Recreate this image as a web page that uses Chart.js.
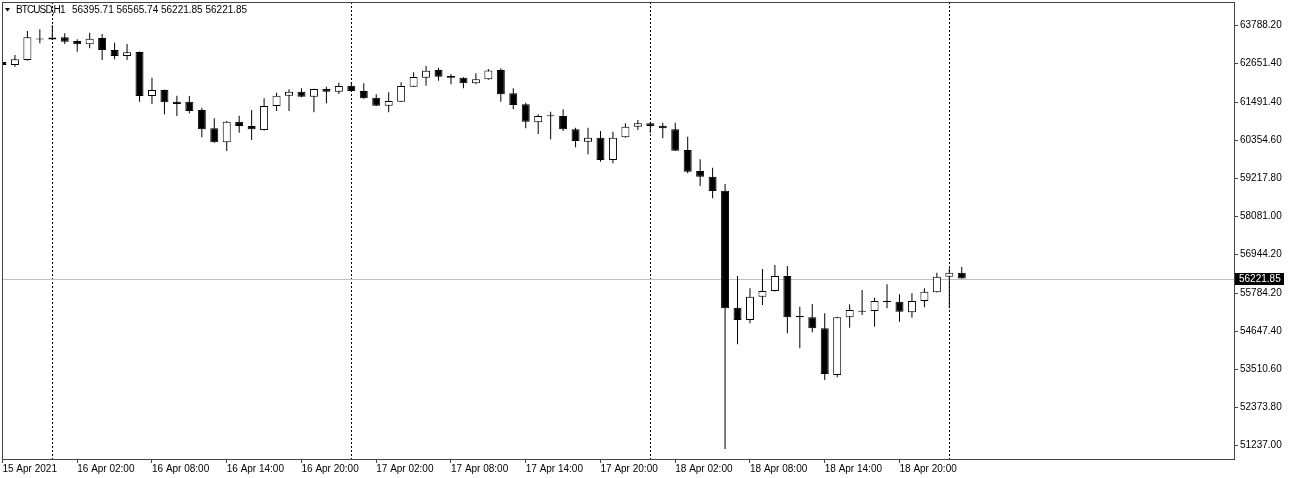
<!DOCTYPE html>
<html><head><meta charset="utf-8">
<script src="https://cdn.jsdelivr.net/npm/chart.js@4.4.1/dist/chart.umd.min.js"></script>
<style>html,body{margin:0;padding:0;background:#fff;overflow:hidden}#wrap{width:1290px;height:478px;position:relative}</style>
</head><body><div id="wrap"><canvas id="c" width="1290" height="478"></canvas></div>
<script>
const symbolTitle = 'BTCUSD,H1';
// hourly candles, 15 Apr 2021 20:00 .. 19 Apr 2021 01:00
const opens = [62692,62602,62752,63394,63364,63430,63319,63221,63409,63050,
62871,62991,61676,61856,61506,61506,61258,60712,60293,60909,
60780,60661,61378,61685,61805,61656,61885,61805,61984,61826,
61626,61387,61506,61954,62223,62453,62274,62223,62055,62175,
62453,61757,61428,60891,61079,61079,60682,60311,60431,59765,
60443,60759,60861,60789,60682,60063,59436,59266,58848,55353,
54985,55682,55852,56300,55066,55066,54737,53343,55066,55263,
55254,55532,55532,55215,55553,55813,56279,56395.71];
const highs = [62722,62901,63618,63669,63797,63549,63370,63567,63528,63269,
63230,63006,62223,61871,61685,61676,61327,61010,60930,61088,
61258,61608,61775,61877,61906,61894,61954,62074,62074,62056,
61727,61787,62086,62384,62572,62522,62333,62238,62354,62483,
62504,61906,61476,61130,61207,61279,60730,60730,60631,60610,
60861,60960,60909,60879,60879,60461,59786,59535,59048,56300,
55932,56509,56629,56599,55383,55463,55186,55084,55454,55881,
55652,56052,55753,55783,55932,56398,56530,56565.74];
const lows = [62363,62552,62740,63250,63349,63230,63000,63101,62752,62773,
62752,61506,61437,61130,61079,61160,60443,60278,60034,60580,
60362,60646,61228,61228,61638,61190,61458,61736,61811,61593,
61378,61190,61497,61945,61984,62133,62026,61906,62026,62160,
61506,61279,60712,60541,60383,60631,60144,59935,59714,59666,
60428,60661,60580,60413,60034,59367,58988,58621,51132,54259,
54887,55434,55837,54588,54140,54618,53193,53274,54755,55135,
54785,55335,54935,55054,55365,55804,55335,56221.85];
const closes = [62602,62773,63430,63364,63424,63298,63221,63388,63050,62871,
62982,61676,61856,61488,61437,61228,60682,60293,60909,60780,
60682,61378,61685,61805,61656,61885,61805,61975,61826,61608,
61387,61527,61975,62244,62432,62253,62223,62055,62175,62438,
61727,61407,60909,61079,61070,60682,60332,60431,59765,60431,
60759,60861,60780,60712,60042,59415,59266,58839,55335,54985,
55682,55852,56300,55066,55105,54737,53373,55066,55284,55233,
55553,55523,55233,55553,55831,56279,56396,56221.85];
const xTickIndex = [0,6,12,18,24,30,36,42,48,54,60,66,72];
const xTickLabels = ['15 Apr 2021','16 Apr 02:00','16 Apr 08:00','16 Apr 14:00','16 Apr 20:00','17 Apr 02:00','17 Apr 08:00','17 Apr 14:00','17 Apr 20:00','18 Apr 02:00','18 Apr 08:00','18 Apr 14:00','18 Apr 20:00'];
const dayBreakIndex = [4,28,52,76];
const yTicks = [63788.20,62651.40,61491.40,60354.60,59217.80,58081.00,56944.20,55784.20,54647.40,53510.60,52373.80,51237.00];

const FONT = '"Liberation Sans", Arial, sans-serif';
const n = closes.length;
const idx = closes.map((_, i) => i);
const wickData = idx.map(i => ({x: i, y: [lows[i], highs[i]]}));
const bodyData = idx.map(i => ({x: i, y: [opens[i], closes[i]]}));
const bodyFill = idx.map(i => closes[i] >= opens[i] ? '#ffffff' : '#000000');

const overlay = {
  id: 'mt4overlay',
  beforeDatasetsDraw(chart) {
    const {ctx, chartArea: a, scales: {x, y}} = chart;
    ctx.save();
    ctx.strokeStyle = '#000';
    ctx.lineWidth = 1;
    ctx.setLineDash([2, 2]);
    dayBreakIndex.forEach(d => {
      const px = Math.round(x.getPixelForValue(d)) + 0.5;
      ctx.beginPath(); ctx.moveTo(px, a.top); ctx.lineTo(px, a.bottom); ctx.stroke();
    });
    ctx.setLineDash([]);
    const py = Math.round(y.getPixelForValue(closes[n - 1])) + 0.5;
    ctx.strokeStyle = '#c0c0c0';
    ctx.beginPath(); ctx.moveTo(a.left, py); ctx.lineTo(a.right, py); ctx.stroke();
    ctx.restore();
  },
  afterDraw(chart) {
    const {ctx, chartArea: a, scales: {y}} = chart;
    ctx.save();
    ctx.strokeStyle = '#444';
    ctx.lineWidth = 1;
    ctx.strokeRect(Math.round(a.left) + 0.5, Math.round(a.top) + 0.5, Math.round(a.right - a.left), Math.round(a.bottom - a.top));
    const py = Math.round(y.getPixelForValue(closes[n - 1]));
    ctx.fillStyle = '#000';
    ctx.fillRect(a.right + 1, py - 6, 49, 12);
    ctx.fillStyle = '#fff';
    ctx.font = '10px ' + FONT;
    ctx.textBaseline = 'middle';
    ctx.textAlign = 'left';
    ctx.fillText(closes[n - 1].toFixed(2), a.right + 5, py + 0.5);
    ctx.fillStyle = '#000';
    ctx.beginPath(); ctx.moveTo(5, 8); ctx.lineTo(10, 8); ctx.lineTo(7.5, 11.5); ctx.closePath(); ctx.fill();
    if ('letterSpacing' in ctx) ctx.letterSpacing = '-0.9px';
    ctx.fillText(symbolTitle, 16, 10);
    if ('letterSpacing' in ctx) ctx.letterSpacing = '0px';
    const last = [opens[n-1], highs[n-1], lows[n-1], closes[n-1]].map(v => v.toFixed(2)).join(' ');
    ctx.fillText(last, 72, 10);
    ctx.restore();
  }
};

new Chart(document.getElementById('c'), {
  type: 'bar',
  data: {
    datasets: [
      {label: 'body', data: bodyData, backgroundColor: bodyFill, borderColor: '#000', borderWidth: 1,
       borderSkipped: false, barThickness: 8, minBarLength: 1, grouped: false, order: 1, inflateAmount: 0, clip: 0},
      {label: 'wick', data: wickData, backgroundColor: '#000', borderWidth: 0,
       barThickness: 1, grouped: false, order: 2, inflateAmount: 0, clip: 0}
    ]
  },
  options: {
    responsive: false,
    animation: false,
    events: [],
    layout: {padding: {top: 2, left: 2, right: 0, bottom: 0}},
    plugins: {legend: {display: false}, tooltip: {enabled: false}, title: {display: false}},
    scales: {
      x: {
        type: 'linear', position: 'bottom', min: -0.038, max: 98.85, offset: false, bounds: 'data',
        grid: {display: true, drawOnChartArea: false, drawTicks: true, tickLength: 4, color: '#444', offset: false},
        border: {display: false},
        ticks: {autoSkip: false, maxRotation: 0, minRotation: 0, align: 'start', padding: 0,
                color: '#000', font: {family: FONT, size: 10},
                callback: (v, i) => xTickLabels[i]},
        afterBuildTicks: s => { s.ticks = xTickIndex.map(v => ({value: v})); },
        afterFit: s => { s.height = 19; s.paddingLeft = 0; s.paddingRight = 0; }
      },
      y: {
        type: 'linear', position: 'right', min: 50833.6, max: 64484.2, beginAtZero: false, bounds: 'data',
        grid: {display: true, drawOnChartArea: false, drawTicks: true, tickLength: 4, color: '#444'},
        border: {display: false},
        ticks: {autoSkip: false, padding: 2, color: '#000', font: {family: FONT, size: 10},
                callback: v => Number(v).toFixed(2)},
        afterBuildTicks: s => { s.ticks = yTicks.map(v => ({value: v})); },
        afterFit: s => { s.width = 56; s.paddingTop = 0; s.paddingBottom = 0; }
      }
    }
  },
  plugins: [overlay]
});
</script></body></html>
